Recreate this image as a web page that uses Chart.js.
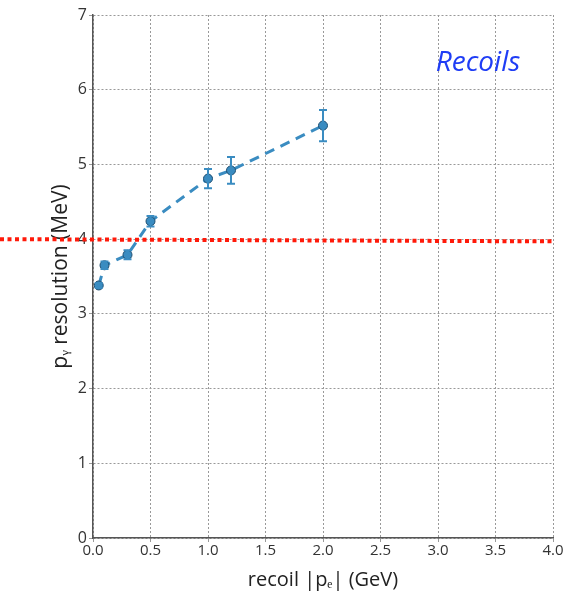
<!DOCTYPE html>
<html>
<head>
<meta charset="utf-8">
<script src="https://cdn.jsdelivr.net/npm/chart.js@4"></script>
<style>
  html, body { margin: 0; padding: 0; background: #fff; }
  #wrap { width: 569px; height: 596px; }
</style>
</head>
<body>
<div id="wrap"><canvas id="myChart" width="569" height="596"></canvas></div>
<script>
const recoil = [0.05, 0.1, 0.3, 0.5, 1.0, 1.2, 2.0];
const resolution = [3.38, 3.65, 3.79, 4.24, 4.81, 4.92, 5.52];
const errors = [0.03, 0.05, 0.06, 0.07, 0.13, 0.18, 0.21];
const thresholdLeft = 4.0;
const thresholdRight = 3.97;
const xTicks = [0, 0.5, 1, 1.5, 2, 2.5, 3, 3.5, 4];
const yTicks = [0, 1, 2, 3, 4, 5, 6, 7];

const FONT = 'Open Sans';
const blue = '#3a8cc1';

// error bars on every point
const errorBars = {
  id: 'errorBars',
  afterDatasetsDraw(chart) {
    const ctx = chart.ctx;
    const xs = chart.scales.x, ys = chart.scales.y;
    ctx.save();
    ctx.strokeStyle = blue;
    ctx.lineWidth = 2;
    recoil.forEach((x, i) => {
      const px = xs.getPixelForValue(x);
      const top = ys.getPixelForValue(resolution[i] + errors[i]);
      const bot = ys.getPixelForValue(resolution[i] - errors[i]);
      ctx.beginPath();
      ctx.moveTo(px, top); ctx.lineTo(px, bot);
      ctx.moveTo(px - 4, top); ctx.lineTo(px + 4, top);
      ctx.moveTo(px - 4, bot); ctx.lineTo(px + 4, bot);
      ctx.stroke();
    });
    ctx.restore();
  }
};

// red dotted threshold, runs past the left axis
const threshold = {
  id: 'threshold',
  afterDraw(chart) {
    const ctx = chart.ctx;
    const ys = chart.scales.y;
    const area = chart.chartArea;
    ctx.save();
    ctx.strokeStyle = '#ff1a0a';
    ctx.lineWidth = 4;
    ctx.setLineDash([4, 3.5]);
    ctx.beginPath();
    ctx.moveTo(0, ys.getPixelForValue(thresholdLeft));
    ctx.lineTo(area.right + 2, ys.getPixelForValue(thresholdRight));
    ctx.stroke();
    ctx.restore();

    ctx.save();
    ctx.fillStyle = '#1f3df5';
    ctx.font = 'italic 28px "' + FONT + '"';
    ctx.textAlign = 'center';
    ctx.textBaseline = 'middle';
    ctx.fillText('Recoils', 478, 63);
    ctx.restore();
  }
};

const config = {
  type: 'scatter',
  data: {
    datasets: [{
      data: recoil.map((x, i) => ({ x: x, y: resolution[i] })),
      showLine: true,
      borderColor: blue,
      borderWidth: 3,
      borderDash: [10, 7],
      pointRadius: 4.5,
      pointBackgroundColor: blue,
      pointBorderColor: '#1d4d70',
      pointBorderWidth: 1,
      tension: 0
    }]
  },
  options: {
    responsive: false,
    animation: false,
    layout: { padding: { left: 44, right: 16, top: 15, bottom: 0 } },
    plugins: { legend: { display: false }, tooltip: { enabled: false } },
    scales: {
      x: {
        type: 'linear',
        min: 0, max: 4,
        afterBuildTicks: s => { s.ticks = xTicks.map(v => ({ value: v })); },
        afterFit: s => { s.height = 58; },
        ticks: {
          color: '#333',
          font: { family: FONT, size: 15 },
          padding: 0,
          callback: v => v.toFixed(1)
        },
        grid: {
          color: '#999',
          lineWidth: 1,
          tickLength: 4,
          borderDash: [2, 4]
        },
        border: { display: true, color: '#555', width: 1.5, dash: [2, 2] },
        title: {
          display: true,
          text: 'recoil |pₑ| (GeV)',
          color: '#222',
          font: { family: FONT, size: 20 },
          padding: { top: 6 }
        }
      },
      y: {
        min: 0, max: 7,
        afterBuildTicks: s => { s.ticks = yTicks.map(v => ({ value: v })); },
        afterFit: s => { s.width = 49; },
        ticks: {
          color: '#333',
          font: { family: FONT, size: 16 },
          padding: 2
        },
        grid: {
          color: '#999',
          lineWidth: 1,
          tickLength: 4,
          borderDash: [2, 4]
        },
        border: { display: true, color: '#555', width: 1.5, dash: [2, 2] },
        title: {
          display: true,
          text: 'pᵧ resolution (MeV)',
          color: '#222',
          font: { family: FONT, size: 21 },
          padding: { bottom: 0 }
        }
      }
    }
  },
  plugins: [errorBars, threshold]
};

const myChart = new Chart(document.getElementById('myChart'), config);
</script>
</body>
</html>
